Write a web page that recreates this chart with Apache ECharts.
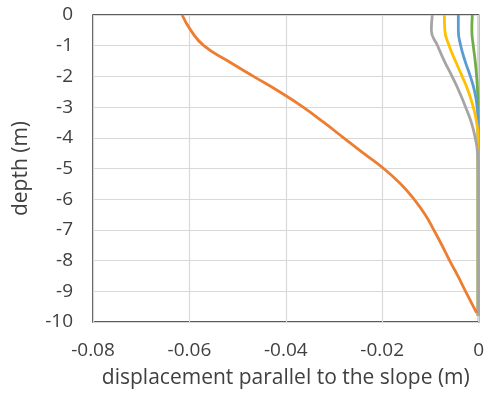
<!DOCTYPE html>
<html>
<head>
<meta charset="utf-8">
<script src="https://cdn.jsdelivr.net/npm/echarts@6/dist/echarts.min.js"></script>
<style>html,body{margin:0;padding:0;background:#fff;}#c{width:487px;height:398px;}</style>
</head>
<body>
<div id="c"></div>
<script>
// depth (m)
var depthOrange = [0, -0.5, -1, -1.5, -2, -2.5, -3, -3.5, -4, -4.5, -5, -5.5, -6, -6.5, -7, -7.5, -8, -8.5, -9, -9.7];
var dispOrange  = [-0.0615, -0.0597, -0.0570, -0.0520, -0.0467, -0.0413, -0.0364, -0.0321, -0.0280, -0.0239, -0.0197, -0.0162, -0.0134, -0.0111, -0.0093, -0.0076, -0.0060, -0.0043, -0.0027, -0.0004];

var depthGray = [0, -0.5, -1, -1.5, -2, -2.5, -3, -3.5, -4, -4.5, -5, -7, -9.8];
var dispGray  = [-0.0096, -0.0098, -0.0085, -0.0071, -0.0055, -0.0040, -0.0027, -0.0015, -0.0007, -0.0002, -0.0001, -0.0001, -0.0001];

var depthYellow = [0, -0.5, -1, -1.5, -2, -2.5, -3, -3.5, -4, -4.5, -7, -9.8];
var dispYellow  = [-0.0071, -0.0070, -0.0061, -0.0048, -0.0034, -0.0021, -0.0011, -0.0004, -0.0001, -0.0001, -0.0001, -0.0001];

var depthBlue = [0, -0.5, -1, -1.5, -2, -2.5, -3, -3.5, -4, -7, -9.8];
var dispBlue  = [-0.0042, -0.0042, -0.0037, -0.0028, -0.0017, -0.0008, -0.0003, -0.0001, -0.0001, -0.0001, -0.0001];

var depthGreen = [0, -0.5, -1, -1.5, -2, -2.5, -3, -3.5, -7, -9.8];
var dispGreen  = [-0.0013, -0.0014, -0.0011, -0.0007, -0.0004, -0.0002, -0.0001, -0.0001, -0.0001, -0.0001];

var xTicks = [-0.08, -0.06, -0.04, -0.02, 0];
var yTicks = [0, -1, -2, -3, -4, -5, -6, -7, -8, -9, -10];

function pairs(xs, ys) { return xs.map(function (x, i) { return [x, ys[i]]; }); }

var font = 'Open Sans';
var textColor = '#404040';

function mkSeries(name, xs, ys, color) {
  return {
    name: name, type: 'line', data: pairs(xs, ys), smooth: 0.5,
    showSymbol: false, symbol: 'none',
    lineStyle: { color: color, width: 2.8 }, itemStyle: { color: color }
  };
}

var chart = echarts.init(document.getElementById('c'), null, { renderer: 'canvas' });
chart.setOption({
  animation: false,
  grid: { left: 93, top: 15, right: 5, bottom: 76, show: true, borderColor: '#262626', borderWidth: 1.5, backgroundColor: 'transparent' },
  xAxis: {
    type: 'value', min: xTicks[0], max: xTicks[xTicks.length - 1], interval: 0.02,
    name: 'displacement parallel to the slope (m)', nameLocation: 'middle', nameGap: 46,
    nameTextStyle: { fontFamily: font, fontSize: 21, color: textColor },
    axisLine: { show: false }, axisTick: { show: false },
    axisLabel: { fontFamily: font, fontSize: 19, color: textColor, margin: 19,
      formatter: function (v) { return Math.abs(v) < 1e-9 ? '0' : String(+v.toFixed(2)); } },
    splitLine: { show: true, lineStyle: { color: '#d9d9d9', width: 1.2 } }
  },
  yAxis: {
    type: 'value', min: yTicks[yTicks.length - 1], max: yTicks[0], interval: 1,
    name: 'depth (m)', nameLocation: 'middle', nameGap: 61,
    nameTextStyle: { fontFamily: font, fontSize: 21, color: textColor },
    axisLine: { show: false }, axisTick: { show: false },
    axisLabel: { fontFamily: font, fontSize: 19, color: textColor, margin: 20 },
    splitLine: { show: true, lineStyle: { color: '#d9d9d9', width: 1.2 } }
  },
  series: [
    mkSeries('s5', dispGreen, depthGreen, '#70AD47'),
    mkSeries('s4', dispBlue, depthBlue, '#5B9BD5'),
    mkSeries('s3', dispYellow, depthYellow, '#FFC000'),
    mkSeries('s2', dispGray, depthGray, '#A5A5A5'),
    mkSeries('s1', dispOrange, depthOrange, '#ED7D31')
  ]
});
</script>
</body>
</html>
